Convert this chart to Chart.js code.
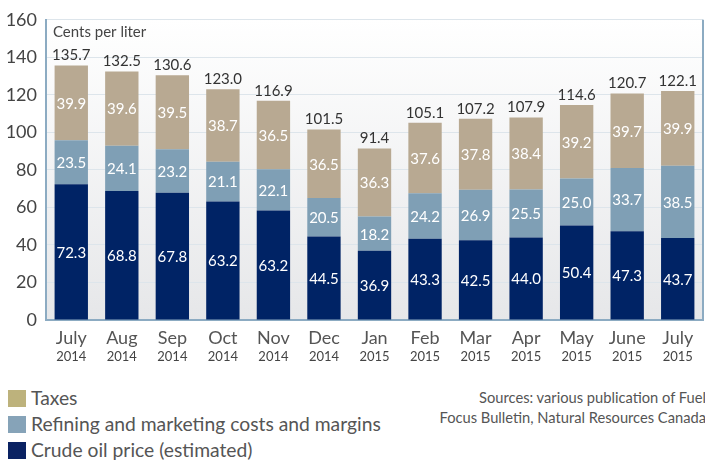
<!DOCTYPE html>
<html>
<head>
<meta charset="utf-8">
<script src="https://cdn.jsdelivr.net/npm/chart.js@4"></script>
<style>
  body { margin: 0; background: #fff; font-family: Lato, "DejaVu Sans", sans-serif; }
  #wrap { position: relative; width: 705px; height: 461px; overflow: hidden; }
  #chart { position: absolute; left: 0; top: 0; }
  #legend { position: absolute; left: 8px; top: 385px; color: #555; font-size: 19.3px; }
  .item { height: 26px; line-height: 26px; display: flex; align-items: center; }
  .sw { width: 18px; height: 17px; margin-right: 5px; }
  #sources { position: absolute; right: -1px; top: 388px; color: #555; font-size: 14.7px; line-height: 19.5px; text-align: right; white-space: nowrap; }
</style>
</head>
<body>
<div id="wrap">
  <canvas id="chart" width="705" height="370"></canvas>
  <div id="legend"></div>
  <div id="sources">Sources: various publication of Fuel<br>Focus Bulletin, Natural Resources Canada</div>
</div>
<script>
const months = ['July', 'Aug', 'Sep', 'Oct', 'Nov', 'Dec', 'Jan', 'Feb', 'Mar', 'Apr', 'May', 'June', 'July'];
const years = ['2014', '2014', '2014', '2014', '2014', '2014', '2015', '2015', '2015', '2015', '2015', '2015', '2015'];

// bar heights as drawn
const crudeOil = [72.3, 68.8, 67.8, 63.2, 58.3, 44.5, 36.9, 43.3, 42.5, 44.0, 50.4, 47.3, 43.7];
const refining = [23.5, 24.1, 23.2, 21.1, 22.1, 20.5, 18.2, 24.2, 26.9, 25.5, 25.0, 33.7, 38.5];
const taxes = [39.9, 39.6, 39.5, 38.7, 36.5, 36.5, 36.3, 37.6, 37.8, 38.4, 39.2, 39.7, 39.9];

// printed numbers (the source prints 63.2 on the Nov crude bar)
const crudeText = ['72.3', '68.8', '67.8', '63.2', '63.2', '44.5', '36.9', '43.3', '42.5', '44.0', '50.4', '47.3', '43.7'];
const totals = ['135.7', '132.5', '130.6', '123.0', '116.9', '101.5', '91.4', '105.1', '107.2', '107.9', '114.6', '120.7', '122.1'];

const yTicks = [0, 20, 40, 60, 80, 100, 120, 140, 160];

const seriesNames = ['Taxes', 'Refining and marketing costs and margins', 'Crude oil price (estimated)'];
const legendColors = ['#bdb27c', '#86a3b8', '#0a2262'];

const FONT = 'Lato, "DejaVu Sans", sans-serif';

// legend in html
const legend = document.getElementById('legend');
seriesNames.forEach(function (name, i) {
    const row = document.createElement('div');
    row.className = 'item';
    row.innerHTML = '<span class="sw" style="background:' + legendColors[i] + '"></span>' + name;
    legend.appendChild(row);
});

const bgPlugin = {
    id: 'bg',
    beforeDraw: function (chart) {
        const a = chart.chartArea;
        const ctx = chart.ctx;
        const g = ctx.createLinearGradient(0, a.top, 0, a.bottom);
        g.addColorStop(0, '#ffffff');
        g.addColorStop(1, '#e6e7e9');
        ctx.save();
        ctx.fillStyle = g;
        ctx.fillRect(a.left, a.top, a.right - a.left, a.bottom - a.top);
        ctx.restore();
    },
    afterDraw: function (chart) {
        const a = chart.chartArea;
        const ctx = chart.ctx;
        ctx.save();
        ctx.strokeStyle = '#8cabc2';
        ctx.lineWidth = 2;
        ctx.beginPath();
        ctx.moveTo(a.right, a.top);
        ctx.lineTo(a.right, a.bottom);
        ctx.stroke();
        ctx.fillStyle = '#444';
        ctx.font = '15px ' + FONT;
        ctx.textAlign = 'left';
        ctx.textBaseline = 'middle';
        ctx.fillText('Cents per liter', a.left + 7, a.top + 12);

        // x labels, two sizes
        const x = chart.scales.x;
        ctx.textAlign = 'center';
        months.forEach(function (m, i) {
            const px = x.getPixelForValue(i);
            ctx.fillStyle = '#555';
            ctx.font = '18px ' + FONT;
            ctx.fillText(m, px, 338);
            ctx.fillStyle = '#444';
            ctx.font = '13px ' + FONT;
            ctx.fillText(years[i], px, 357);
        });
        ctx.restore();
    }
};

const labelPlugin = {
    id: 'barLabels',
    afterDatasetsDraw: function (chart) {
        const ctx = chart.ctx;
        ctx.save();
        ctx.font = '15px ' + FONT;
        ctx.textAlign = 'center';
        ctx.textBaseline = 'middle';
        chart.data.datasets.forEach(function (ds, i) {
            const meta = chart.getDatasetMeta(i);
            meta.data.forEach(function (bar, j) {
                const txt = ds.printed ? ds.printed[j] : ds.data[j].toFixed(1);
                ctx.fillStyle = '#fff';
                ctx.fillText(txt, bar.x, (bar.y + bar.base) / 2 + 1);
            });
        });
        const top = chart.getDatasetMeta(chart.data.datasets.length - 1);
        top.data.forEach(function (bar, j) {
            ctx.fillStyle = '#333';
            ctx.fillText(totals[j], bar.x, bar.y - 10);
        });
        ctx.restore();
    }
};

new Chart(document.getElementById('chart').getContext('2d'), {
    type: 'bar',
    data: {
        labels: months,
        datasets: [
            { label: seriesNames[2], data: crudeOil, printed: crudeText, backgroundColor: '#002365' },
            { label: seriesNames[1], data: refining, backgroundColor: '#7f9fb5' },
            { label: seriesNames[0], data: taxes, backgroundColor: '#b8a992' }
        ]
    },
    options: {
        responsive: false,
        animation: false,
        layout: { padding: { top: 15, right: 2, left: 0, bottom: 0 } },
        plugins: { legend: { display: false }, tooltip: { enabled: false } },
        datasets: { bar: { barPercentage: 0.66, categoryPercentage: 1 } },
        scales: {
            x: {
                stacked: true,
                grid: { display: false },
                border: { color: '#8cabc2', width: 2 },
                ticks: { display: false },
                afterFit: function (s) { s.height = 50; }
            },
            y: {
                stacked: true,
                min: 0,
                max: 160,
                afterBuildTicks: function (s) { s.ticks = yTicks.map(function (v) { return { value: v }; }); },
                grid: { color: '#dde5eb', drawTicks: false },
                border: { color: '#8cabc2', width: 2 },
                ticks: { color: '#444', font: { size: 18, family: FONT }, padding: 9 },
                afterFit: function (s) { s.width = 46; }
            }
        }
    },
    plugins: [bgPlugin, labelPlugin]
});
</script>
</body>
</html>
